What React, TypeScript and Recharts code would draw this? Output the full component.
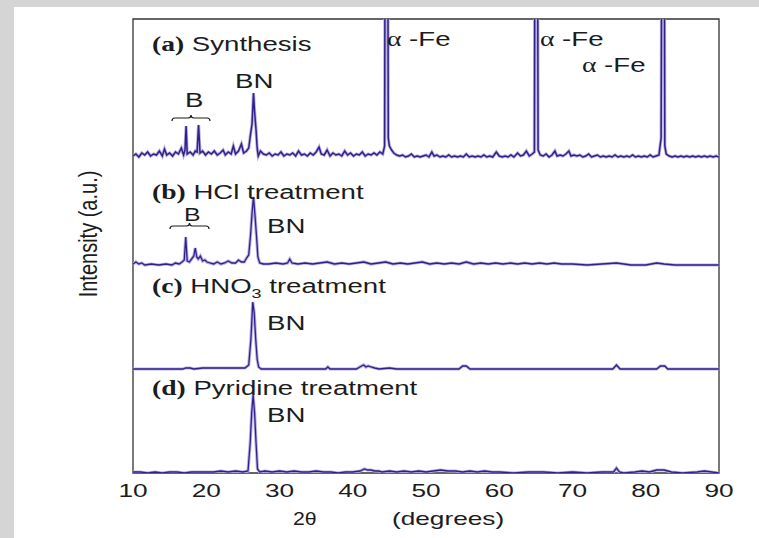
import { ComposedChart, Line, XAxis, YAxis, ReferenceArea } from 'recharts';

// 2θ (deg), intensity above each trace's own baseline (a.u.)
const synthesis: [number, number][] = [
  [10, 4], [10.4, 6], [10.8, 3], [11.2, 7], [11.6, 5], [12, 8], [12.4, 4], [12.8, 6], [13.2, 5], [13.6, 9],
  [14, 4], [14.3, 11], [14.6, 5], [15, 7], [15.4, 4], [15.8, 8], [16.2, 6], [16.6, 12], [16.9, 5], [17.1, 10],
  [17.25, 34], [17.4, 6], [17.8, 8], [18.2, 5], [18.5, 9], [18.75, 8], [18.95, 35], [19.15, 7], [19.5, 9], [19.9, 5],
  [20.3, 8], [20.7, 6], [21.1, 9], [21.5, 5], [21.9, 7], [22.3, 10], [22.6, 5], [23, 8], [23.4, 6], [23.7, 14],
  [24, 6], [24.4, 9], [24.8, 16], [25.1, 7], [25.5, 9], [25.8, 12], [26.05, 26], [26.25, 36], [26.45, 67], [26.6, 48],
  [26.8, 30], [26.95, 12], [27.1, 4], [27.4, 9], [27.8, 6], [28.2, 5], [28.6, 7], [29, 4], [29.4, 6], [29.8, 5],
  [30.2, 8], [30.6, 4], [31, 6], [31.4, 5], [31.8, 7], [32.2, 4], [32.6, 9], [33, 5], [33.4, 6], [33.8, 4],
  [34.2, 7], [34.6, 5], [35, 8], [35.4, 13], [35.7, 6], [36.1, 5], [36.5, 10], [36.9, 4], [37.3, 7], [37.7, 5],
  [38.1, 6], [38.5, 4], [38.9, 9], [39.3, 5], [39.7, 7], [40.1, 4], [40.5, 6], [40.9, 5], [41.3, 8], [41.7, 4],
  [42.1, 6], [42.5, 5], [42.9, 7], [43.3, 5], [43.7, 8], [44.1, 6], [44.35, 14], [44.5, 520], [44.7, 520], [44.85, 22],
  [45, 14], [45.3, 10], [45.6, 7], [46, 5], [46.4, 4], [46.8, 5], [47.2, 3], [47.6, 4], [48, 6], [48.4, 3],
  [48.8, 4], [49.2, 3], [49.6, 4], [50, 5], [50.4, 3], [50.8, 8], [51.1, 4], [51.5, 5], [51.9, 3], [52.3, 4],
  [52.7, 3], [53.1, 5], [53.5, 3], [53.9, 4], [54.3, 3], [54.7, 4], [55.1, 3], [55.5, 6], [55.9, 3], [56.3, 4],
  [56.7, 3], [57.1, 4], [57.5, 3], [57.9, 5], [58.3, 3], [58.7, 4], [59.1, 3], [59.6, 8], [60, 4], [60.4, 3],
  [60.8, 4], [61.2, 3], [61.6, 5], [62, 3], [62.5, 7], [62.9, 4], [63.3, 5], [63.7, 9], [64.1, 4], [64.5, 6],
  [64.8, 8], [64.95, 520], [65.15, 520], [65.3, 10], [65.6, 5], [66, 4], [66.4, 6], [66.8, 3], [67.2, 5], [67.6, 9],
  [67.9, 4], [68.3, 5], [68.7, 4], [69.1, 6], [69.5, 9], [69.8, 4], [70.2, 5], [70.6, 4], [71, 5], [71.4, 3],
  [71.8, 4], [72.2, 6], [72.6, 3], [73, 4], [73.4, 5], [73.8, 3], [74.2, 4], [74.6, 3], [75, 4], [75.4, 3],
  [75.8, 5], [76.2, 3], [76.6, 4], [77, 3], [77.4, 4], [77.8, 3], [78.2, 5], [78.6, 3], [79, 4], [79.4, 3],
  [79.8, 4], [80.2, 3], [80.6, 5], [81, 3], [81.4, 4], [81.8, 5], [82.1, 22], [82.3, 520], [82.45, 520], [82.6, 14],
  [82.8, 6], [83.2, 4], [83.6, 3], [84, 4], [84.4, 3], [84.8, 4], [85.2, 3], [85.6, 4], [86, 3], [86.4, 4],
  [86.8, 3], [87.2, 4], [87.6, 3], [88, 4], [88.4, 3], [88.8, 4], [89.2, 3], [89.6, 4], [90, 3],
];

const hclTreated: [number, number][] = [
  [10, 1], [10.4, 3], [10.8, 1], [11.2, 2], [11.6, 0], [12.5, 1], [13.5, 0], [14.5, 1], [15.3, 0], [15.8, 2],
  [16.3, 1], [16.7, 3], [17, 5], [17.2, 28], [17.4, 4], [17.7, 3], [18, 6], [18.3, 9], [18.5, 17], [18.7, 8],
  [18.9, 6], [19.2, 9], [19.5, 4], [19.8, 5], [20.1, 3], [20.5, 2], [21, 1], [21.5, 3], [22, 1], [22.5, 2],
  [23, 4], [23.5, 2], [24, 2], [24.4, 5], [24.8, 3], [25.2, 3], [25.5, 7], [25.8, 10], [26.05, 30], [26.25, 52],
  [26.45, 68], [26.65, 50], [26.85, 30], [27.05, 8], [27.3, 2], [27.8, 1], [28.5, 1], [29.5, 2], [30.5, 1], [31.1, 2],
  [31.4, 6], [31.7, 2], [32.5, 1], [33.5, 2], [34.5, 1], [35.5, 2], [36.5, 3], [37.5, 1], [38.5, 2], [39.5, 1],
  [40.5, 2], [41.5, 3], [42.5, 1], [43.5, 2], [44.5, 3], [45.5, 1], [46.5, 2], [47.5, 1], [48.5, 2], [49.5, 3],
  [50.5, 1], [51.5, 2], [52.5, 1], [53.5, 2], [54.5, 1], [55.5, 3], [56.5, 1], [57.5, 2], [58.5, 1], [59.5, 2],
  [60.5, 1], [61.5, 2], [62.5, 1], [63.5, 2], [64.5, 1], [65.5, 2], [66.5, 1], [67.5, 2], [68.5, 1], [70, 1],
  [72, 0], [74, 1], [76, 2], [78, 0], [80, 0], [81.5, 2], [82.5, 1], [84, 0], [86, 0], [88, 0], [90, 0],
];

const hno3Treated: [number, number][] = [
  [10, 0], [14, 0], [16.8, 0], [17.2, 1], [17.8, 1], [18.3, 0], [19.5, 1], [21, 1], [22.5, 1], [24, 1],
  [25.3, 1], [25.8, 4], [26.1, 30], [26.35, 67], [26.55, 56], [26.75, 30], [26.95, 10], [27.15, 2], [27.5, 0], [30, 0],
  [33, 0], [36.3, 0], [36.6, 2], [36.9, 0], [40.5, 0], [41.2, 3], [41.5, 4], [41.8, 2], [42.1, 3], [42.5, 2],
  [43, 1], [43.6, 0], [45, 1], [46, 0], [50, 0], [54.5, 0], [55, 3], [55.5, 3], [56, 0], [60, 0],
  [65, 0], [70, 0], [75.5, 0], [76, 4], [76.5, 0], [81.5, 0], [82, 3], [82.6, 3], [83, 0], [86, 0], [90, 0],
];

const pyridineTreated: [number, number][] = [
  [10, 1], [11, 1], [12, 0], [13, 1], [14, 0], [15, 1], [16, 1], [17, 0], [18, 1], [19, 1],
  [20, 1], [21, 1], [22, 2], [23, 1], [24, 2], [25, 1], [25.7, 2], [26, 30], [26.2, 60], [26.4, 78],
  [26.6, 60], [26.8, 30], [27, 4], [27.3, 1], [28, 2], [29, 1], [30, 2], [31, 1], [32, 2], [33, 1],
  [34, 1], [35, 2], [36, 1], [37, 1], [38, 0], [39, 1], [40, 1], [41, 2], [41.6, 4], [42, 3],
  [42.5, 3], [43, 2], [43.5, 2], [44, 1], [45, 2], [46, 1], [47, 2], [48, 1], [49, 2], [50, 1],
  [51, 2], [52, 3], [53, 2], [54, 2], [55, 1], [56, 2], [57, 1], [58, 2], [59, 1], [60, 1],
  [62, 0], [64, 1], [66, 1], [68, 0], [70, 1], [72, 0], [74, 1], [75.6, 1], [76, 5], [76.4, 1],
  [77, 0], [78.5, 1], [79.5, 2], [80.5, 1], [81.5, 3], [82.5, 3], [83.5, 1], [85, 0], [87, 1], [88, 2],
  [89, 1], [90, 0],
];

const xTicks = [10, 20, 30, 40, 50, 60, 70, 80, 90];

// vertical stacking of the four patterns
const traces = [
  { key: 'a', pts: synthesis, shift: 313, w: 1.5 },
  { key: 'b', pts: hclTreated, shift: 208, w: 1.3 },
  { key: 'c', pts: hno3Treated, shift: 104, w: 1.3 },
  { key: 'd', pts: pyridineTreated, shift: 0, w: 1.3 },
];

const SANS = '"Liberation Sans", Arial, sans-serif';
const SERIF = '"Liberation Serif", "Times New Roman", serif';
const SX = 1.38; // the figure is stretched horizontally
const INK = '#1c1c1c';

const stack = (pts: [number, number][], shift: number) => pts.map(([x, y]) => ({ x, y: y + shift }));

const Tick = ({ x, y, payload }: any) => (
  <text transform={`translate(${x},${y + 24}) scale(${SX},1)`} textAnchor="middle" fontFamily={SANS} fontSize={19} fill={INK}>
    {payload.value}
  </text>
);

const Lbl = ({ x, y, children, size = 20, sx = SX }: any) => (
  <text transform={`translate(${x},${y}) scale(${sx},1)`} fontFamily={SANS} fontSize={size} fill={INK}>
    {children}
  </text>
);

const Tag = (t: string) => (
  <tspan fontFamily={SERIF} fontWeight="bold">{t}</tspan>
);

const Alpha = () => <tspan fontFamily={SERIF}>α</tspan>;

const brace = (x1: number, x2: number, y: number) => {
  const m = (x1 + x2) / 2;
  return `M${x1},${y + 3} Q${x1},${y} ${x1 + 3},${y} L${m - 3},${y} Q${m},${y} ${m},${y - 3} Q${m},${y} ${m + 3},${y} L${x2 - 3},${y} Q${x2},${y} ${x2},${y + 3}`;
};

export default function App() {
  return (
    <div style={{ position: 'absolute', left: 0, top: 0, width: 759, height: 538, background: '#d5d5d5' }}>
      <div style={{ position: 'absolute', left: 14, top: 7, width: 745, height: 531, background: '#fff' }} />
      <div style={{ position: 'absolute', left: 0, top: 0 }}>
        <ComposedChart width={759} height={538} margin={{ top: 19, right: 40, bottom: 35, left: 133 }}>
          <XAxis
            dataKey="x"
            type="number"
            domain={[10, 90]}
            ticks={xTicks}
            axisLine={false}
            tickLine={false}
            tickSize={0}
            tickMargin={0}
            height={30}
            tick={<Tick />}
            allowDataOverflow
          />
          <YAxis type="number" domain={[0, 454]} hide allowDataOverflow />
          {traces.map((t) => (
            <Line
              key={t.key + 'halo'}
              data={stack(t.pts, t.shift)}
              dataKey="y"
              type="linear"
              stroke="#b9b1e2"
              strokeWidth={3.2}
              dot={false}
              activeDot={false}
              isAnimationActive={false}
            />
          ))}
          {traces.map((t) => (
            <Line
              key={t.key}
              data={stack(t.pts, t.shift)}
              dataKey="y"
              type="linear"
              stroke="#30208a"
              strokeWidth={t.w}
              dot={false}
              activeDot={false}
              isAnimationActive={false}
            />
          ))}
          <ReferenceArea x1={10} x2={90} y1={0} y2={454} fill="none" stroke="#333" strokeWidth={1.3} />
        </ComposedChart>
      </div>
      <svg width={759} height={538} style={{ position: 'absolute', left: 0, top: 0, pointerEvents: 'none' }}>
        <Lbl x={152} y={51}>{Tag('(a)')} Synthesis</Lbl>
        <Lbl x={235} y={88}>BN</Lbl>
        <Lbl x={185} y={107}>B</Lbl>
        <path d={brace(172, 210, 118)} fill="none" stroke={INK} strokeWidth={1.2} />
        <Lbl x={387} y={46}><Alpha /> -Fe</Lbl>
        <Lbl x={540} y={46}><Alpha /> -Fe</Lbl>
        <Lbl x={582} y={72}><Alpha /> -Fe</Lbl>

        <Lbl x={152} y={199}>{Tag('(b)')} HCl treatment</Lbl>
        <Lbl x={184} y={221} size={18}>B</Lbl>
        <path d={brace(170, 209, 226)} fill="none" stroke={INK} strokeWidth={1.2} />
        <Lbl x={267} y={233}>BN</Lbl>

        <Lbl x={152} y={293}>
          {Tag('(c)')} HNO<tspan fontSize={13} dy={5}>3</tspan><tspan dy={-5}> treatment</tspan>
        </Lbl>
        <Lbl x={267} y={330}>BN</Lbl>

        <Lbl x={152} y={395}>{Tag('(d)')} Pyridine treatment</Lbl>
        <Lbl x={267} y={422}>BN</Lbl>

        <Lbl x={293} y={525} size={19} sx={1.12}>2θ</Lbl>
        <Lbl x={392} y={525} size={19}>(degrees)</Lbl>
        <text transform="translate(97,234) rotate(-90) scale(1,1.3)" textAnchor="middle" fontFamily={SANS} fontSize={20} fill={INK}>
          Intensity (a.u.)
        </text>
      </svg>
    </div>
  );
}
